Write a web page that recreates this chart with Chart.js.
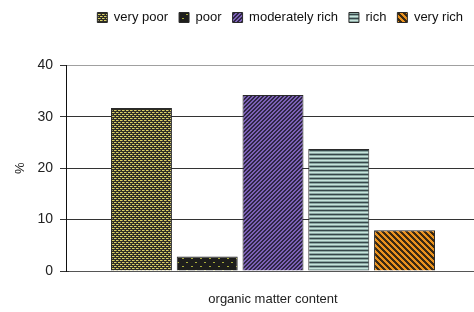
<!DOCTYPE html>
<html>
<head>
<meta charset="utf-8">
<script src="https://cdn.jsdelivr.net/npm/chart.js@4"></script>
<style>
  html, body { margin: 0; padding: 0; background: #fff; }
  #wrap { width: 474px; height: 312px; }
</style>
</head>
<body>
<div id="wrap"><canvas id="organic-chart" width="474" height="312"></canvas></div>
<script>
// Data
const classes = ['very poor', 'poor', 'moderately rich', 'rich', 'very rich'];
const shares = [31.7, 2.8, 34.2, 23.7, 7.9];
const yTicks = [0, 10, 20, 30, 40];

// Small tiled patterns like the old spreadsheet fills
function makePattern(w, h, draw) {
    const c = document.createElement('canvas');
    c.width = w;
    c.height = h;
    const g = c.getContext('2d');
    draw(g, w, h);
    return g.createPattern(c, 'repeat');
}

function px(g, color, x, y, w, h) {
    g.fillStyle = color;
    g.fillRect(x, y, w || 1, h || 1);
}

// draw a tile from rows of color keys
function tile(rows, colors) {
    return makePattern(rows[0].length, rows.length, (g) => {
        rows.forEach((row, y) => {
            row.split('').forEach((k, x) => px(g, colors[k], x, y));
        });
    });
}

const fills = [
    // very poor: yellow / grey / dark weave
    tile(['yygd', 'dddd', 'gdyy', 'dddd'],
         { y: '#dcd264', g: '#8a8466', d: '#2e2d22' }),
    // poor: black with sparse dots
    makePattern(9, 8, (g) => {
        px(g, '#1e1e1c', 0, 0, 9, 8);
        px(g, '#a9ad3c', 2, 2, 2, 1);
        px(g, '#a9ad3c', 6, 6, 2, 1);
    }),
    // moderately rich: purple with dark "/" stripes
    tile(['ppdd', 'pddp', 'ddpp', 'dppd'],
         { p: '#7c60b6', d: '#2e2644' }),
    // rich: horizontal stripes
    tile(['l', 'm', 'd', 'm'],
         { l: '#c8e4dd', m: '#8aa8a2', d: '#36464a' }),
    // very rich: orange with dark "\" stripes
    tile(['dddooo', 'odddoo', 'oodddo', 'oooddd', 'dooodd', 'ddoood'],
         { o: '#ea921e', d: '#3c2a12' })
];

const datasets = classes.map((name, i) => ({
    label: name,
    data: [shares[i]],
    backgroundColor: fills[i],
    borderColor: '#2a2a2a',
    borderWidth: 1,
    categoryPercentage: 0.806,
    barPercentage: 0.927
}));

const fontFamily = '"Liberation Sans", Arial, sans-serif';

// the bar group sits a little right of the plot centre in the original
const shiftBars = {
    id: 'shiftBars',
    afterLayout(chart) {
        const x = chart.scales.x;
        x.left += 3;
        x.right += 3;
        x.configure();
    }
};

const ctx = document.getElementById('organic-chart').getContext('2d');
const organicChart = new Chart(ctx, {
    type: 'bar',
    data: {
        labels: [''],
        datasets: datasets
    },
    plugins: [shiftBars],
    options: {
        responsive: false,
        animation: false,
        layout: { padding: 0 },
        plugins: {
            tooltip: { enabled: false },
            legend: {
                position: 'top',
                align: 'end',
                labels: {
                    boxWidth: 10,
                    boxHeight: 10,
                    padding: 11,
                    color: '#111',
                    font: { family: fontFamily, size: 13 }
                }
            },
            // empty title used as a spacer between legend and plot
            title: {
                display: true,
                text: '',
                weight: 500,
                font: { size: 1 },
                padding: { top: 0, bottom: 30 }
            }
        },
        scales: {
            x: {
                grid: { display: false },
                border: { display: true, color: '#555', width: 1 },
                ticks: { display: false },
                title: {
                    display: true,
                    text: 'organic matter content',
                    color: '#222',
                    font: { family: fontFamily, size: 13 },
                    padding: { top: 0, bottom: 5 }
                },
                afterFit: (scale) => { scale.height = 41; }
            },
            y: {
                min: 0,
                max: 40,
                afterBuildTicks: (scale) => {
                    scale.ticks = yTicks.map(v => ({ value: v }));
                },
                grid: {
                    color: (c) => c.tick && c.tick.value === 40 ? '#a0a0a0' : '#333',
                    lineWidth: 1,
                    drawTicks: true,
                    tickLength: 6,
                    tickColor: '#333'
                },
                border: { display: true, color: '#111', width: 1 },
                ticks: {
                    color: '#222',
                    padding: 7,
                    font: { family: fontFamily, size: 14 }
                },
                title: {
                    display: true,
                    text: '%',
                    color: '#222',
                    font: { family: fontFamily, size: 13 },
                    padding: { top: 13, bottom: 4 }
                },
                afterFit: (scale) => { scale.width = 66; }
            }
        }
    }
});
</script>
</body>
</html>
